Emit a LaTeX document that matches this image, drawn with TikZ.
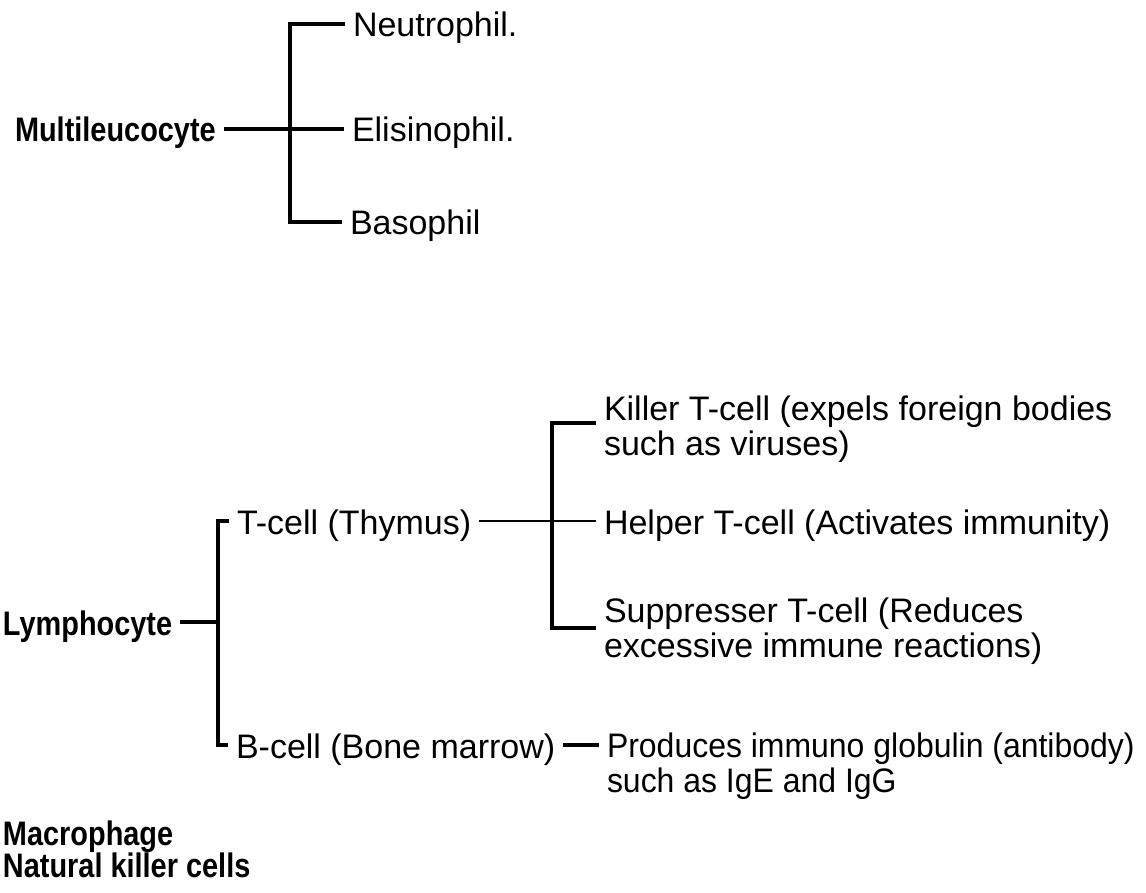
\documentclass[tikz,border=0pt]{standalone}
\usepackage{fontspec}
\setmainfont{Liberation Sans}
\newfontfamily\headfont{Liberation Sans}[FakeStretch=0.85]
\newfontfamily\narrowfont{Liberation Sans}[FakeStretch=0.94]

\tikzset{
  head/.style={font=\fontsize{17}{17.5}\selectfont\headfont\bfseries,
    inner sep=0pt, outer xsep=4pt, anchor=base west},
  sub/.style={font=\fontsize{17}{17.5}\selectfont,
    inner sep=0pt, outer xsep=4pt, anchor=base west, align=left},
  stem/.style={line width=2pt},
  thinstem/.style={line width=0.9pt}
}
\def\armup{6.5pt}

\begin{document}
\begin{tikzpicture}[x=0.5pt,y=-0.5pt]
  \useasboundingbox (0,0) rectangle (1146,893);
  % granulocytes: one stem, three branches
  \node[head] (multi) at (7,142) {Multileucocyte};
  \node[sub] (neutro) at (345,37) {Neutrophil.};
  \node[sub] (elisino) at (344,142) {Elisinophil.};
  \node[sub] (baso) at (342,235) {Basophil};
  \coordinate (mjoin) at (290,129);
  \draw[stem] ([yshift=\armup]multi.base east) -- (mjoin);
  \draw[stem] ([yshift=\armup]neutro.base west) -| (mjoin) |- ([yshift=\armup]baso.base west);
  \draw[stem] (mjoin) -- ([yshift=\armup]elisino.base west);
  % lymphocytes: T-cell and B-cell
  \node[head] (lympho) at (-5,635) {Lymphocyte};
  \node[sub] (tcell) at (229,534) {T-cell (Thymus)};
  \node[sub] (bcell) at (228,758) {B-cell (Bone marrow)};
  \coordinate (ljoin) at (218,622);
  \draw[stem] ([yshift=\armup]lympho.base east) -- (ljoin);
  \draw[stem] ([yshift=\armup]tcell.base west) -| (ljoin) |- ([yshift=\armup]bcell.base west);
  % T-cell kinds (base is the last line)
  \node[sub] (killer) at (596,455) {Killer T-cell (expels foreign bodies\\such as viruses)};
  \node[sub] (helper) at (596,534) {Helper T-cell (Activates immunity)};
  \node[sub] (suppr) at (596,657) {Suppresser T-cell (Reduces\\excessive immune reactions)};
  \coordinate (tjoin) at (552,521);
  \draw[thinstem] ([yshift=\armup]tcell.base east) -- ([yshift=\armup]helper.base west);
  \draw[stem] ([yshift=16pt]killer.base west) -| (tjoin) |- ([yshift=14.5pt]suppr.base west);
  % B-cell product
  \node[sub,font=\fontsize{17}{17.5}\selectfont\narrowfont] (produce) at (599,792)
    {Produces immuno globulin (antibody)\\such as IgE and IgG};
  \draw[stem] ([yshift=\armup]bcell.base east) -- ([yshift=23.5pt]produce.base west);
  % other cells
  \node[head] (macro) at (-5,845) {Macrophage};
  \node[head] (nkcell) at (-5,877) {Natural killer cells};
\end{tikzpicture}
\end{document}
